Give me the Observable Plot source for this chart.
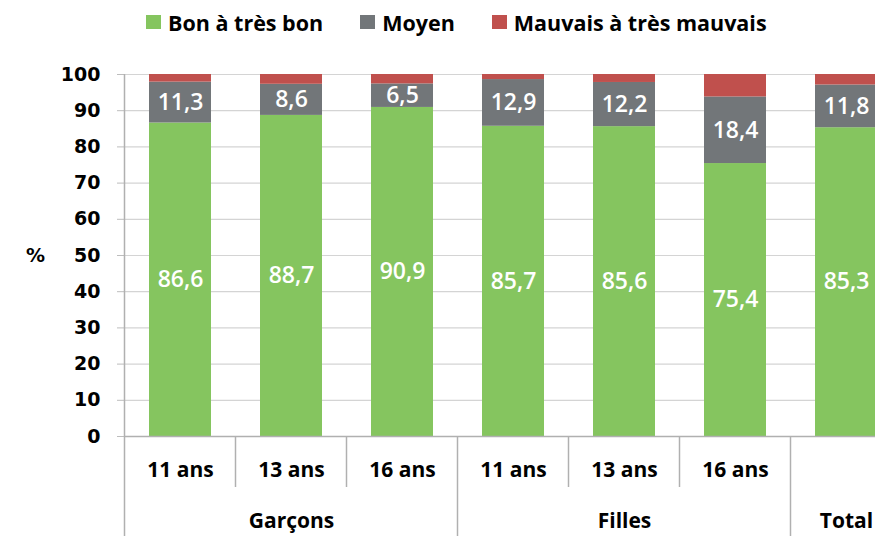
<!DOCTYPE html>
<html>
<head>
<meta charset="utf-8">
<script src="https://cdn.jsdelivr.net/npm/d3@7"></script>
<script src="https://cdn.jsdelivr.net/npm/@observablehq/plot@0.6"></script>
<style>
  html, body { margin: 0; padding: 0; background: #fff; overflow: hidden; }
  #wrap { width: 875px; height: 536px; position: relative; overflow: hidden; }
  #legend { height: 44px; display: flex; align-items: center; padding-left: 146px; gap: 37px;
            font-family: "Open Sans", sans-serif; font-weight: 700; font-size: 21.5px; color: #000; }
  .item { display: flex; align-items: center; gap: 7px; white-space: nowrap; }
  .sw { width: 15px; height: 14px; display: inline-block; }
  #chart svg { display: block; overflow: hidden; }
</style>
</head>
<body>
<div id="wrap">
  <div id="legend"></div>
  <div id="chart"></div>
</div>
<script>
// ---- data ----
const groups  = ["Garçons", "Garçons", "Garçons", "Filles", "Filles", "Filles", "Total"];
const ages    = ["11 ans", "13 ans", "16 ans", "11 ans", "13 ans", "16 ans", ""];
const bon     = [86.6, 88.7, 90.9, 85.7, 85.6, 75.4, 85.3];
const moyen   = [11.3, 8.6, 6.5, 12.9, 12.2, 18.4, 11.8];
const mauvais = [2.1, 2.7, 2.6, 1.4, 2.2, 6.2, 2.9];
const series  = ["Bon à très bon", "Moyen", "Mauvais à très mauvais"];
const colors  = ["#85c55f", "#727679", "#c0504d"];
const yTicks  = [0, 10, 20, 30, 40, 50, 60, 70, 80, 90, 100];

// ---- tidy table ----
const keys = groups.map((g, i) => i);
const seriesValues = [bon, moyen, mauvais];
const rows = [];
keys.forEach(k => {
  series.forEach((s, si) => rows.push({ key: k, series: s, value: seriesValues[si][k], label: si < 2 }));
});
const groupLabels = [];
[...new Set(groups)].forEach(g => {
  const idx = keys.filter(k => groups[k] === g);
  groupLabels.push({ name: g, key: idx[Math.floor(idx.length / 2)] });
});
const fmt = v => v.toFixed(1).replace(".", ",");

// ---- legend ----
const legend = document.getElementById("legend");
series.forEach((s, i) => {
  const it = document.createElement("div");
  it.className = "item";
  const sw = document.createElement("span");
  sw.className = "sw";
  sw.style.background = colors[i];
  const t = document.createElement("span");
  t.textContent = s;
  it.appendChild(sw); it.appendChild(t);
  legend.appendChild(it);
});

// ---- chart ----
const plot = Plot.plot({
  width: 875,
  height: 492,
  marginTop: 30,
  marginBottom: 100,
  marginLeft: 124,
  marginRight: -27,
  x: { type: "band", domain: keys, paddingInner: 0.44, paddingOuter: 0.22, axis: null },
  y: { domain: [0, 100], axis: null },
  color: { domain: series, range: colors },
  style: { background: "#fff" },
  marks: [
    Plot.ruleY(yTicks.filter(d => d > 0), { stroke: "#d4d4d4", strokeWidth: 1.2 }),
    Plot.axisY({ ticks: yTicks, tickSize: 7, tickPadding: 17, stroke: "#bdbdbd", fill: "#000",
                 fontFamily: "DejaVu Sans", fontWeight: "bold", fontSize: 19, label: null }),
    Plot.barY(rows, { x: "key", y: "value", fill: "series" }),
    Plot.ruleY([0], { stroke: "#b0b0b0", strokeWidth: 1.5 }),
    Plot.text(rows, Plot.stackY({ x: "key", y: "value", z: "series",
      text: d => d.label ? fmt(d.value) : "", fill: "#fff",
      fontFamily: "Open Sans", fontWeight: 600, fontSize: 23 })),
    Plot.text(keys, { x: d => d, y: () => 0, text: d => ages[d], dy: 34,
      fontFamily: "Open Sans", fontWeight: 700, fontSize: 21, fill: "#000" }),
    Plot.text(groupLabels, { x: "key", y: () => 0, text: "name", dy: 85,
      fontFamily: "Open Sans", fontWeight: 700, fontSize: 21, fill: "#000" }),
    Plot.text(["%"], { frameAnchor: "left", dx: -89, text: d => d, textAnchor: "middle",
      fontFamily: "DejaVu Sans", fontWeight: "bold", fontSize: 19, fill: "#000" })
  ]
});
document.getElementById("chart").appendChild(plot);

// ---- category separators, positioned through Plot's scales ----
const xs = plot.scale("x"), ys = plot.scale("y");
const gap = (xs.step - xs.bandwidth) / 2;
const y0 = ys.apply(0), yTop = ys.apply(100), H = 492;
const svg = d3.select(plot);
const g = svg.append("g").attr("stroke", "#b0b0b0").attr("stroke-width", 1.5);
g.append("line").attr("x1", xs.apply(0) - gap).attr("x2", xs.apply(0) - gap)
  .attr("y1", yTop).attr("y2", H);
keys.slice(1).forEach(k => {
  const x = xs.apply(k) - gap;
  const long = groups[k] !== groups[k - 1];
  g.append("line").attr("x1", x).attr("x2", x)
    .attr("y1", y0).attr("y2", long ? H : y0 + 51);
});
</script>
</body>
</html>
